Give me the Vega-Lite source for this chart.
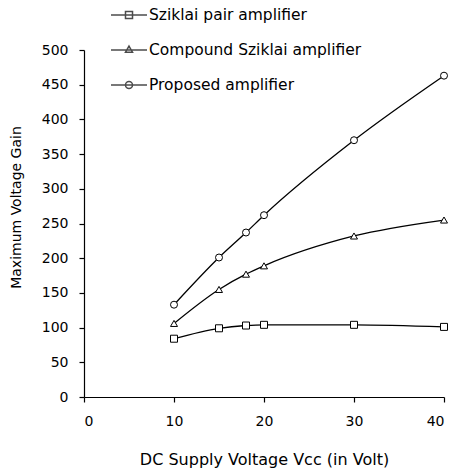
{
  "$schema": "https://vega.github.io/schema/vega-lite/v6.json",
  "width": 360,
  "height": 347,
  "autosize": {"type": "none"},
  "padding": {"left": 84, "top": 50, "right": 9, "bottom": 74},
  "background": "white",
  "config": {
    "font": "DejaVu Sans",
    "view": {"stroke": null},
    "axis": {
      "domainColor": "black",
      "tickColor": "black",
      "labelColor": "black",
      "titleColor": "black",
      "labelFont": "DejaVu Sans",
      "titleFont": "DejaVu Sans",
      "labelFontSize": 14,
      "titleFontSize": 16,
      "titleFontWeight": "normal",
      "grid": false,
      "tickSize": 5,
      "domainWidth": 1.2,
      "tickWidth": 1.2
    },
    "legend": {
      "labelFont": "DejaVu Sans",
      "labelFontSize": 15.5,
      "labelColor": "black",
      "labelLimit": 400
    }
  },
  "data": {
    "values": [
      {"vcc": 10, "gain": 84, "series": "Sziklai pair amplifier"},
      {"vcc": 15, "gain": 99, "series": "Sziklai pair amplifier"},
      {"vcc": 18, "gain": 103, "series": "Sziklai pair amplifier"},
      {"vcc": 20, "gain": 104, "series": "Sziklai pair amplifier"},
      {"vcc": 30, "gain": 104, "series": "Sziklai pair amplifier"},
      {"vcc": 40, "gain": 101, "series": "Sziklai pair amplifier"},
      {"vcc": 10, "gain": 106, "series": "Compound Sziklai amplifier"},
      {"vcc": 15, "gain": 155, "series": "Compound Sziklai amplifier"},
      {"vcc": 18, "gain": 177, "series": "Compound Sziklai amplifier"},
      {"vcc": 20, "gain": 189, "series": "Compound Sziklai amplifier"},
      {"vcc": 30, "gain": 232, "series": "Compound Sziklai amplifier"},
      {"vcc": 40, "gain": 255, "series": "Compound Sziklai amplifier"},
      {"vcc": 10, "gain": 133, "series": "Proposed amplifier"},
      {"vcc": 15, "gain": 201, "series": "Proposed amplifier"},
      {"vcc": 18, "gain": 237, "series": "Proposed amplifier"},
      {"vcc": 20, "gain": 262, "series": "Proposed amplifier"},
      {"vcc": 30, "gain": 370, "series": "Proposed amplifier"},
      {"vcc": 40, "gain": 463, "series": "Proposed amplifier"}
    ]
  },
  "encoding": {
    "x": {
      "field": "vcc",
      "type": "quantitative",
      "scale": {"domain": [0, 40], "nice": false},
      "axis": {
        "values": [0, 10, 20, 30, 40],
        "title": "DC Supply Voltage Vcc (in Volt)",
        "labelPadding": 12,
        "titlePadding": 23
      }
    },
    "y": {
      "field": "gain",
      "type": "quantitative",
      "scale": {"domain": [0, 500], "nice": false},
      "axis": {
        "values": [0, 50, 100, 150, 200, 250, 300, 350, 400, 450, 500],
        "title": "Maximum Voltage Gain",
        "titleFontSize": 14,
        "labelPadding": 11,
        "titleY": 157,
        "titleX": -61
      }
    }
  },
  "layer": [
    {
      "mark": {"type": "line", "interpolate": "monotone", "color": "black", "strokeWidth": 1.3},
      "encoding": {"detail": {"field": "series"}}
    },
    {
      "mark": {"type": "point", "filled": false, "fill": "white", "fillOpacity": 1, "stroke": "black", "strokeWidth": 1, "size": 49, "opacity": 1},
      "encoding": {
        "shape": {
          "field": "series",
          "type": "nominal",
          "scale": {
            "domain": ["Sziklai pair amplifier", "Compound Sziklai amplifier", "Proposed amplifier"],
            "range": ["square", "triangle-up", "circle"]
          },
          "legend": null
        }
      }
    },
    {
      "transform": [{"filter": "datum.vcc < 0"}],
      "mark": {"type": "point", "filled": false, "stroke": "black", "strokeWidth": 1.2},
      "encoding": {
        "shape": {
          "field": "series",
          "type": "nominal",
          "scale": {
            "domain": ["Sziklai pair amplifier", "Compound Sziklai amplifier", "Proposed amplifier"],
            "range": [
              "M-1.385,0H1.385M-0.27,-0.27H0.27V0.27H-0.27Z",
              "M-1.385,0H1.385M0,-0.3L0.27,0.17L-0.27,0.17Z",
              "M-1.385,0H1.385M0.27,0A0.27,0.27,0,1,1,-0.27,0A0.27,0.27,0,1,1,0.27,0Z"
            ]
          },
          "legend": {
            "title": null,
            "orient": "none",
            "padding": 0,
            "legendX": 31,
            "legendY": -49,
            "symbolSize": 676,
            "symbolStrokeColor": "black",
            "symbolFillColor": "transparent",
            "rowPadding": 12,
            "labelOffset": 6
          }
        }
      }
    }
  ],
  "resolve": {"scale": {"shape": "independent"}, "legend": {"shape": "independent"}}
}
